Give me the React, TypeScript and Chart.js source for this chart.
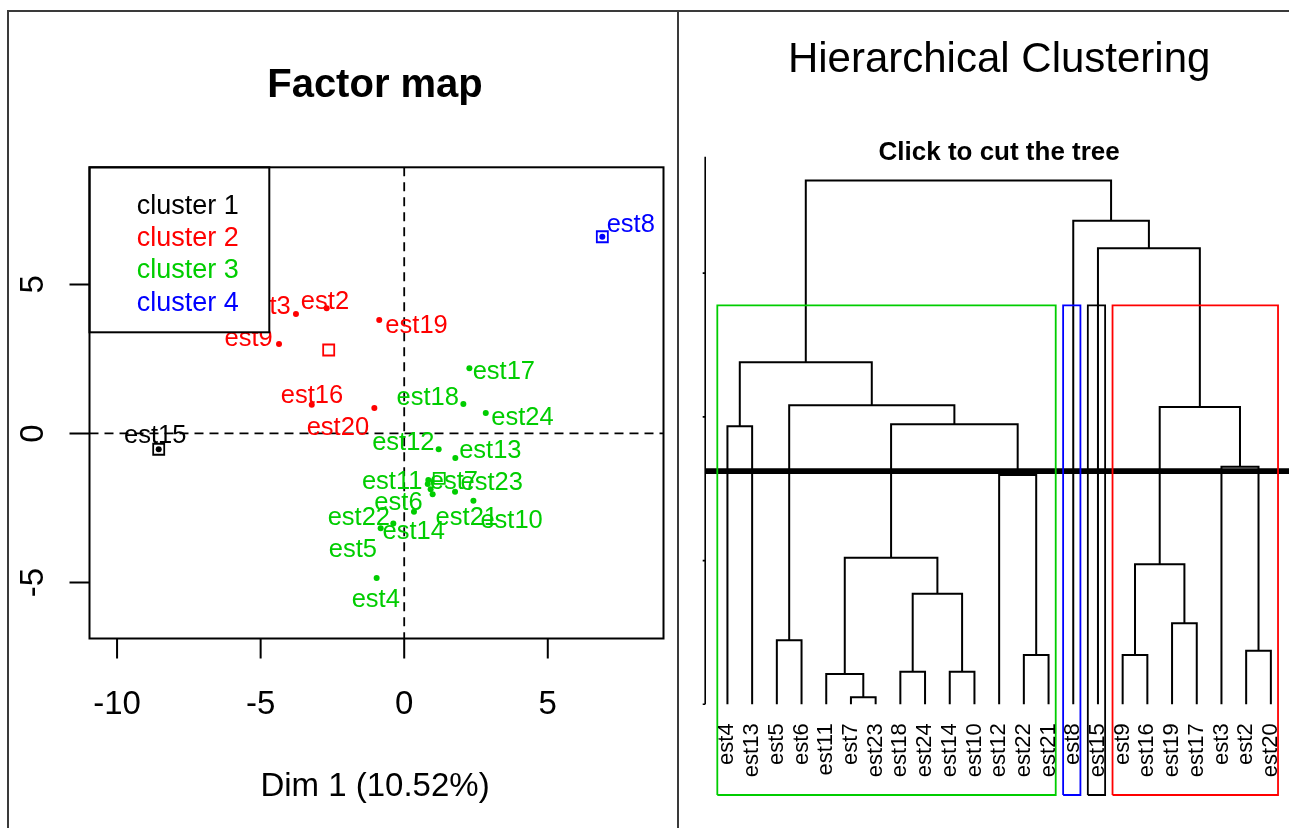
import React, { useEffect, useRef } from "react";
import { Chart, registerables } from "chart.js";

Chart.register(...registerables);

const FONT = '"Liberation Sans", Arial, Helvetica, sans-serif';

// ---------------- Factor map data ----------------
const clusterLabels = ["cluster 1", "cluster 2", "cluster 3", "cluster 4"];
const clusterColors = ["#000000", "#FF0000", "#00CD00", "#0000FF"];

const indNames = [
  "est2", "est3", "est9", "est16", "est19", "est20",
  "est4", "est5", "est6", "est7", "est10", "est11", "est12", "est13", "est14",
  "est17", "est18", "est21", "est22", "est23", "est24",
  "est15", "est8",
];
const indCluster = [
  2, 2, 2, 2, 2, 2,
  3, 3, 3, 3, 3, 3, 3, 3, 3,
  3, 3, 3, 3, 3, 3,
  1, 4,
];
const indX = [
  -2.70, -3.77, -4.36, -3.22, -0.87, -1.04,
  -0.96, -0.82, 0.99, 0.84, 2.41, 0.82, 1.20, 1.78, 0.34,
  2.27, 2.06, 0.92, -0.38, 1.77, 2.84,
  -8.55, 6.90,
];
const indY = [
  4.20, 4.01, 3.00, 0.96, 3.81, 0.85,
  -4.85, -3.18, -2.04, -1.56, -2.26, -1.70, -0.53, -0.82, -2.63,
  2.19, 0.99, -1.87, -3.02, -1.96, 0.69,
  -0.53, 6.60,
];
const labX = [
  -2.76, -4.79, -5.42, -3.21, 0.43, -2.31,
  -0.99, -1.79, -0.20, 1.73, 3.74, -0.42, -0.03, 3.00, 0.33,
  3.47, 0.82, 2.18, -1.58, 3.05, 4.12,
  -8.67, 7.89,
];
const labY = [
  4.48, 4.31, 3.22, 1.32, 3.67, 0.25,
  -5.51, -3.83, -2.26, -1.56, -2.87, -1.56, -0.25, -0.53, -3.23,
  2.12, 1.26, -2.77, -2.77, -1.60, 0.57,
  -0.02, 7.06,
];
const centerX = [-8.55, -2.63, 1.22, 6.90];
const centerY = [-0.53, 2.80, -1.51, 6.60];

const xTicks = [-10, -5, 0, 5];
const yTicks = [-5, 0, 5];
const xAxisTitle = "Dim 1 (10.52%)";
const leftTitle = "Factor map";

// ---------------- Dendrogram data ----------------
const leafOrder = [
  "est4", "est13", "est5", "est6", "est11", "est7", "est23", "est18", "est24",
  "est14", "est10", "est12", "est22", "est21", "est8", "est15", "est9", "est16",
  "est19", "est17", "est3", "est2", "est20",
];
const mergeLeft = [
  "est7", "est11", "est18", "est14", "est22", "est9", "est2", "est5", "est19",
  "m3", "m6", "m2", "est12", "est3", "est4", "m12", "m11", "m8", "m15",
  "est15", "est8", "m19",
];
const mergeRight = [
  "est23", "m1", "est24", "est10", "est21", "est16", "est20", "est6", "est17",
  "m4", "m9", "m10", "m5", "m7", "est13", "m13", "m14", "m16", "m18",
  "m17", "m20", "m21",
];
const mergeHeight = [
  0.049, 0.211, 0.227, 0.227, 0.343, 0.343, 0.373, 0.445, 0.564,
  0.770, 0.974, 1.020, 1.596, 1.653, 1.935, 1.949, 2.069, 2.081, 2.380,
  3.173, 3.365, 3.644,
];
const cutHeight = 1.622;
const nClusters = 4;
const rectFirstLeaf = [0, 14, 15, 16];
const rectLastLeaf = [13, 14, 15, 22];
const rectColors = ["#00CD00", "#0000FF", "#000000", "#FF0000"];
const axisTicks = [0, 1, 2, 3];
const axisTop = 3.81;
const rightTitle = "Hierarchical Clustering";
const rightSubtitle = "Click to cut the tree";

// ---------------- Left chart ----------------
function leftConfig(): any {
  const datasets: any[] = [1, 2, 3, 4].map((c) => ({
    label: clusterLabels[c - 1],
    data: indNames
      .map((_, i) => (indCluster[i] === c ? { x: indX[i], y: indY[i] } : null))
      .filter((p) => p !== null),
    pointRadius: 3,
    pointHoverRadius: 3,
    pointBackgroundColor: clusterColors[c - 1],
    pointBorderWidth: 0,
    showLine: false,
    order: 2,
  }));
  datasets.push({
    label: "centers",
    data: centerX.map((x, i) => ({ x, y: centerY[i] })),
    pointStyle: "rect",
    pointRadius: 7.8,
    pointHoverRadius: 7.8,
    pointBackgroundColor: "rgba(0,0,0,0)",
    pointBorderColor: clusterColors,
    pointBorderWidth: 1.8,
    showLine: false,
    order: 1,
  });

  const plugin = {
    id: "factorDecor",
    beforeDatasetsDraw(chart: any) {
      const { ctx, chartArea: a, scales } = chart;
      const x0 = scales.x.getPixelForValue(0);
      const y0 = scales.y.getPixelForValue(0);
      ctx.save();
      ctx.strokeStyle = "#000";
      ctx.lineWidth = 1.8;
      ctx.setLineDash([9, 6]);
      ctx.beginPath();
      ctx.moveTo(x0, a.top);
      ctx.lineTo(x0, a.bottom);
      ctx.moveTo(a.left, y0);
      ctx.lineTo(a.right, y0);
      ctx.stroke();
      ctx.restore();
    },
    afterDatasetsDraw(chart: any) {
      const { ctx, chartArea: a, scales } = chart;
      const xs = scales.x;
      const ys = scales.y;
      ctx.save();
      // point labels
      ctx.font = `25.5px ${FONT}`;
      ctx.textAlign = "center";
      ctx.textBaseline = "alphabetic";
      indNames.forEach((n, i) => {
        ctx.fillStyle = clusterColors[indCluster[i] - 1];
        ctx.fillText(n, xs.getPixelForValue(labX[i]), ys.getPixelForValue(labY[i]) + 9);
      });
      // legend
      const lx = a.left, ly = a.top, lw = 179.8, lh = 165;
      ctx.fillStyle = "#fff";
      ctx.fillRect(lx, ly, lw, lh);
      ctx.strokeStyle = "#000";
      ctx.lineWidth = 2;
      ctx.strokeRect(lx, ly, lw, lh);
      ctx.font = `27px ${FONT}`;
      ctx.textAlign = "left";
      clusterLabels.forEach((l, i) => {
        ctx.fillStyle = clusterColors[i];
        ctx.fillText(l, lx + 47.2, ly + 46.7 + i * 32.2);
      });
      // frame
      ctx.strokeStyle = "#000";
      ctx.lineWidth = 2;
      ctx.strokeRect(a.left, a.top, a.right - a.left, a.bottom - a.top);
      // ticks
      ctx.beginPath();
      xTicks.forEach((t) => {
        const px = xs.getPixelForValue(t);
        ctx.moveTo(px, a.bottom);
        ctx.lineTo(px, a.bottom + 20);
      });
      yTicks.forEach((t) => {
        const py = ys.getPixelForValue(t);
        ctx.moveTo(a.left, py);
        ctx.lineTo(a.left - 20, py);
      });
      ctx.stroke();
      ctx.fillStyle = "#000";
      ctx.font = `33px ${FONT}`;
      ctx.textAlign = "center";
      ctx.textBaseline = "alphabetic";
      xTicks.forEach((t) => {
        ctx.fillText(String(t), xs.getPixelForValue(t), 714);
      });
      ctx.textBaseline = "middle";
      yTicks.forEach((t) => {
        ctx.save();
        ctx.translate(33.6, ys.getPixelForValue(t));
        ctx.rotate(-Math.PI / 2);
        ctx.fillText(String(t), 0, 0);
        ctx.restore();
      });
      ctx.textBaseline = "alphabetic";
      ctx.font = `33px ${FONT}`;
      ctx.fillText(xAxisTitle, 375, 796);
      ctx.font = `bold 40px ${FONT}`;
      ctx.fillText(leftTitle, 375, 97);
      ctx.restore();
    },
  };

  return {
    type: "scatter",
    data: { datasets },
    options: {
      animation: false,
      responsive: false,
      events: [],
      layout: { padding: { left: 89.5, top: 167.3, right: 678 - 663.5, bottom: 828 - 638.5 } },
      plugins: { legend: { display: false }, tooltip: { enabled: false }, title: { display: false } },
      scales: {
        x: { type: "linear", min: -10.96, max: 9.03, display: false },
        y: { type: "linear", min: -6.88, max: 8.93, display: false },
      },
    },
    plugins: [plugin],
  };
}

// ---------------- Right chart ----------------
function rightConfig(): any {
  const leafIndex: Record<string, number> = {};
  leafOrder.forEach((n, i) => (leafIndex[n] = i));
  const nodes: { x: number; h: number }[] = [];
  const info = (ref: string) =>
    ref.startsWith("m") ? nodes[parseInt(ref.slice(1), 10) - 1] : { x: leafIndex[ref], h: 0 };

  const datasets: any[] = [];
  mergeHeight.forEach((h, i) => {
    const l = info(mergeLeft[i]);
    const r = info(mergeRight[i]);
    nodes.push({ x: (l.x + r.x) / 2, h });
    datasets.push({
      label: "m" + (i + 1),
      data: [
        { x: l.x, y: l.h },
        { x: l.x, y: h },
        { x: r.x, y: h },
        { x: r.x, y: r.h },
      ],
      showLine: true,
      borderColor: "#000",
      borderWidth: 2,
      pointRadius: 0,
      order: 3,
      clip: false,
    });
  });

  const xMin = -0.88;
  const xMax = leafOrder.length - 1 + 0.88;
  datasets.push({
    label: "cut",
    data: [
      { x: xMin, y: cutHeight },
      { x: xMax, y: cutHeight },
    ],
    showLine: true,
    borderColor: "#000",
    borderWidth: 5.7,
    pointRadius: 0,
    order: 2,
    clip: false,
  });

  const sorted = [...mergeHeight].sort((a, b) => b - a);
  const rectTop = (sorted[nClusters - 2] + sorted[nClusters - 1]) / 2;
  const yMin = -0.631;
  rectFirstLeaf.forEach((f, i) => {
    const l = f - 0.41;
    const r = rectLastLeaf[i] + 0.29;
    datasets.push({
      label: "rect" + i,
      data: [
        { x: l, y: yMin },
        { x: l, y: rectTop },
        { x: r, y: rectTop },
        { x: r, y: yMin },
        { x: l, y: yMin },
      ],
      showLine: true,
      borderColor: rectColors[i],
      borderWidth: 1.8,
      pointRadius: 0,
      order: 1,
      clip: false,
    });
  });

  const plugin = {
    id: "dendroDecor",
    afterDraw(chart: any) {
      const { ctx, chartArea: a, scales } = chart;
      const xs = scales.x;
      const ys = scales.y;
      ctx.save();
      // axis
      ctx.strokeStyle = "#000";
      ctx.lineWidth = 1.6;
      const ax = a.left - 0.5;
      ctx.beginPath();
      ctx.moveTo(ax, ys.getPixelForValue(0));
      ctx.lineTo(ax, ys.getPixelForValue(axisTop));
      axisTicks.forEach((t) => {
        const py = ys.getPixelForValue(t);
        ctx.moveTo(ax, py);
        ctx.lineTo(ax - 2.5, py);
      });
      ctx.stroke();
      // leaf labels
      ctx.fillStyle = "#000";
      ctx.font = `22px ${FONT}`;
      ctx.textAlign = "right";
      ctx.textBaseline = "middle";
      leafOrder.forEach((n, i) => {
        ctx.save();
        ctx.translate(xs.getPixelForValue(i), ys.getPixelForValue(0) + 19);
        ctx.rotate(-Math.PI / 2);
        ctx.fillText(n, 0, 0);
        ctx.restore();
      });
      // titles
      const cx = (a.left + a.right) / 2;
      ctx.textAlign = "center";
      ctx.textBaseline = "alphabetic";
      ctx.font = `42px ${FONT}`;
      ctx.fillText(rightTitle, cx, 72);
      ctx.font = `bold 26px ${FONT}`;
      ctx.fillText(rightSubtitle, cx, 160);
      ctx.restore();
    },
  };

  return {
    type: "scatter",
    data: { datasets },
    options: {
      animation: false,
      responsive: false,
      events: [],
      layout: { padding: { left: 26.7, top: 150, right: 7.4, bottom: 33 } },
      plugins: { legend: { display: false }, tooltip: { enabled: false }, title: { display: false } },
      scales: {
        x: { type: "linear", min: xMin, max: xMax, display: false },
        y: { type: "linear", min: yMin, max: 3.857, display: false },
      },
    },
    plugins: [plugin],
  };
}

export default function App() {
  const leftRef = useRef<HTMLCanvasElement>(null);
  const rightRef = useRef<HTMLCanvasElement>(null);

  useEffect(() => {
    const c1 = new Chart(leftRef.current as HTMLCanvasElement, leftConfig());
    const c2 = new Chart(rightRef.current as HTMLCanvasElement, rightConfig());
    return () => {
      c1.destroy();
      c2.destroy();
    };
  }, []);

  return (
    <div
      style={{
        position: "fixed",
        left: 0,
        top: 0,
        width: 1289,
        height: 828,
        overflow: "hidden",
        background: "#fff",
      }}
    >
      <canvas
        ref={leftRef}
        width={678}
        height={828}
        style={{ position: "absolute", left: 0, top: 0, width: 678, height: 828 }}
      />
      <canvas
        ref={rightRef}
        width={621}
        height={828}
        style={{ position: "absolute", left: 679, top: 0, width: 621, height: 828 }}
      />
      <div
        style={{
          position: "absolute",
          left: 7,
          top: 10,
          width: 1400,
          height: 900,
          borderLeft: "2px solid #3a3a3a",
          borderTop: "2px solid #3a3a3a",
          pointerEvents: "none",
        }}
      />
      <div
        style={{
          position: "absolute",
          left: 677,
          top: 10,
          width: 2,
          height: 900,
          background: "#3a3a3a",
          pointerEvents: "none",
        }}
      />
    </div>
  );
}
